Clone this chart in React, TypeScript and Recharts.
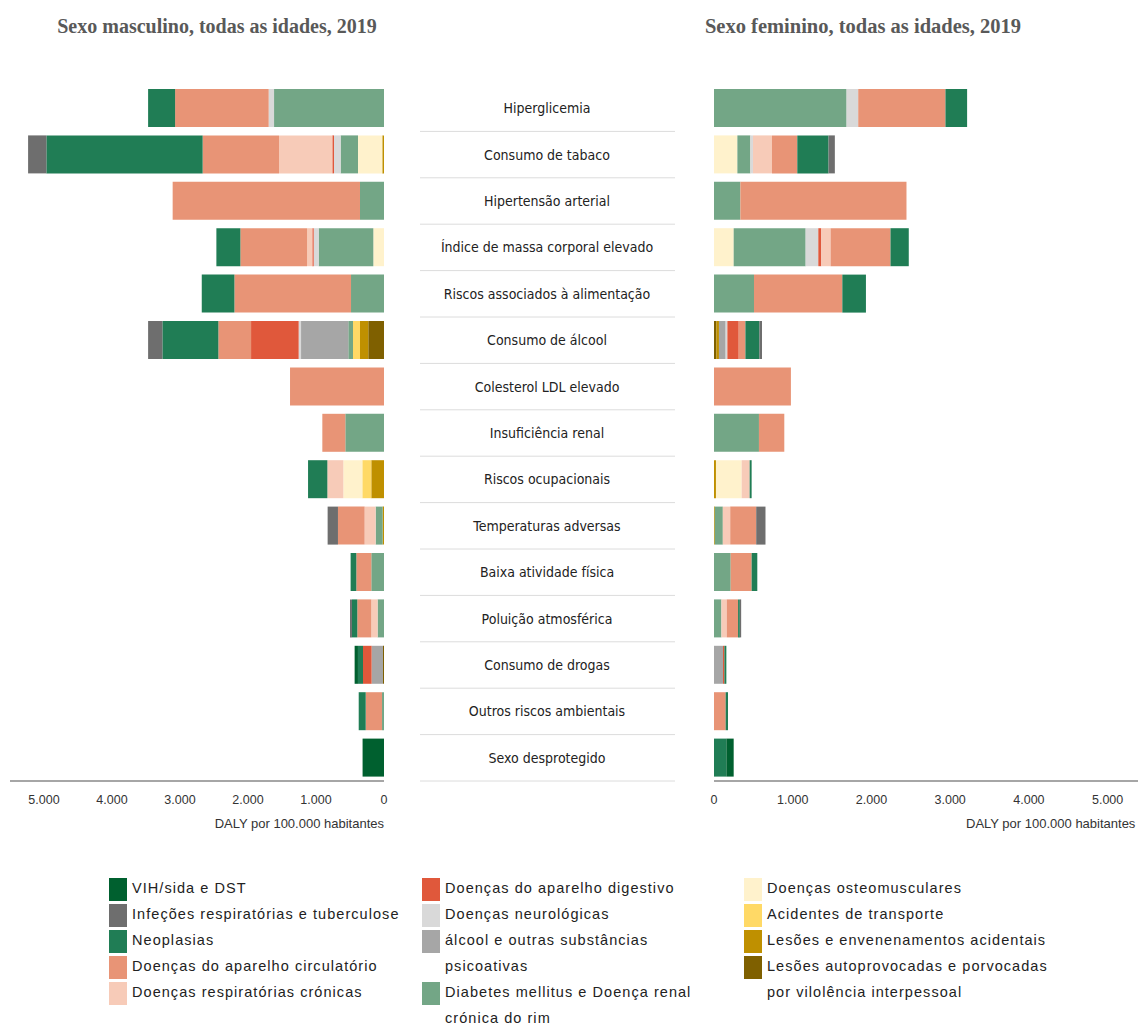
import { Bar, BarChart, XAxis, YAxis } from 'recharts';

const categories = [
  'Hiperglicemia',
  'Consumo de tabaco',
  'Hipertensão arterial',
  'Índice de massa corporal elevado',
  'Riscos associados à alimentação',
  'Consumo de álcool',
  'Colesterol LDL elevado',
  'Insuficiência renal',
  'Riscos ocupacionais',
  'Temperaturas adversas',
  'Baixa atividade física',
  'Poluição atmosférica',
  'Consumo de drogas',
  'Outros riscos ambientais',
  'Sexo desprotegido',
];

// stacking order, from 0 outwards
const seriesKeys = [
  'autoprov', 'acidentais', 'transporte', 'osteo', 'diabetes', 'alcool', 'neuro',
  'digestivo', 'respCron', 'circ', 'neo', 'infec', 'vih',
];
const seriesLabels = [
  'Lesões autoprovocadas e porvocadas\npor vilolência interpessoal',
  'Lesões e envenenamentos acidentais',
  'Acidentes de transporte',
  'Doenças osteomusculares',
  'Diabetes mellitus e Doença renal\ncrónica do rim',
  'álcool e outras substâncias\npsicoativas',
  'Doenças neurológicas',
  'Doenças do aparelho digestivo',
  'Doenças respiratórias crónicas',
  'Doenças do aparelho circulatório',
  'Neoplasias',
  'Infeções respiratórias e tuberculose',
  'VIH/sida e DST',
];
const seriesColors = [
  '#7f6000', '#bf9000', '#ffd966', '#fff2cc', '#73a686', '#a6a6a6', '#d9d9d9',
  '#e0583b', '#f7cbb8', '#e89476', '#207d55', '#6e6e6e', '#00602f',
];

// Sexo masculino (DALY por 100.000)
const mAutoprov = [0, 0, 0, 0, 0, 231, 0, 0, 0, 0, 0, 0, 15, 0, 0];
const mAcidentais = [0, 25, 0, 0, 0, 122, 0, 0, 187, 20, 0, 0, 0, 0, 0];
const mTransporte = [0, 0, 0, 0, 0, 103, 0, 0, 132, 0, 0, 0, 0, 0, 0];
const mOsteo = [0, 357, 0, 157, 0, 0, 0, 0, 279, 0, 0, 0, 0, 0, 0];
const mDiabetes = [1617, 256, 353, 804, 485, 69, 0, 569, 0, 103, 187, 94, 0, 29, 0];
const mAlcool = [0, 0, 0, 0, 0, 695, 0, 0, 0, 0, 0, 0, 167, 0, 0];
const mNeuro = [79, 97, 0, 73, 0, 35, 0, 0, 0, 0, 0, 0, 0, 0, 0];
const mDigestivo = [0, 25, 0, 20, 0, 700, 0, 0, 0, 0, 0, 0, 127, 0, 0];
const mRespCron = [0, 784, 0, 78, 0, 0, 0, 0, 235, 162, 0, 93, 0, 0, 0];
const mCirc = [1376, 1123, 2755, 980, 1715, 481, 1382, 338, 0, 392, 220, 206, 0, 240, 0];
const mNeo = [397, 2298, 0, 353, 480, 823, 0, 0, 284, 0, 84, 78, 74, 103, 0];
const mInfec = [0, 269, 0, 0, 0, 210, 0, 0, 0, 152, 0, 29, 0, 0, 0];
const mVih = [0, 0, 0, 0, 0, 0, 0, 0, 0, 0, 0, 0, 49, 0, 315];

// Sexo feminino
const fAutoprov = [0, 0, 0, 0, 0, 30, 0, 0, 0, 0, 0, 0, 0, 0, 0];
const fAcidentais = [0, 0, 0, 0, 0, 33, 0, 0, 25, 10, 0, 0, 0, 0, 0];
const fTransporte = [0, 0, 0, 0, 0, 0, 0, 0, 0, 0, 0, 0, 0, 0, 0];
const fOsteo = [0, 297, 0, 250, 0, 0, 0, 0, 326, 0, 0, 0, 0, 0, 0];
const fDiabetes = [1684, 165, 335, 914, 508, 0, 0, 571, 0, 102, 212, 94, 0, 0, 0];
const fAlcool = [0, 0, 0, 0, 0, 85, 0, 0, 0, 0, 0, 0, 114, 0, 0];
const fNeuro = [148, 33, 0, 161, 0, 22, 0, 0, 0, 0, 0, 0, 0, 0, 0];
const fDigestivo = [0, 0, 0, 38, 0, 144, 0, 0, 0, 0, 0, 0, 18, 0, 0];
const fRespCron = [0, 241, 0, 118, 0, 0, 0, 0, 102, 94, 0, 68, 0, 0, 0];
const fCirc = [1108, 322, 2110, 761, 1122, 85, 977, 322, 0, 330, 266, 144, 0, 148, 0];
const fNeo = [275, 397, 0, 232, 300, 178, 0, 0, 25, 0, 72, 22, 25, 30, 157];
const fInfec = [0, 80, 0, 0, 0, 33, 0, 0, 0, 118, 0, 17, 0, 0, 0];
const fVih = [0, 0, 0, 0, 0, 0, 0, 0, 0, 0, 0, 0, 0, 0, 93];

const xTicks = [0, 1000, 2000, 3000, 4000, 5000];

const buildRows = (vals: number[][]) =>
  categories.map((name, i) => {
    const row: Record<string, string | number> = { name };
    seriesKeys.forEach((k, j) => {
      row[k] = vals[j][i];
    });
    return row;
  });

const maleRows = buildRows([
  mAutoprov, mAcidentais, mTransporte, mOsteo, mDiabetes, mAlcool, mNeuro,
  mDigestivo, mRespCron, mCirc, mNeo, mInfec, mVih,
]);
const femaleRows = buildRows([
  fAutoprov, fAcidentais, fTransporte, fOsteo, fDiabetes, fAlcool, fNeuro,
  fDigestivo, fRespCron, fCirc, fNeo, fInfec, fVih,
]);

const fmt = (v: number) => String(v).replace(/\B(?=(\d{3})+(?!\d))/g, '.');

const CHART_H = 820;
const MARGIN_TOP = 85;
const PLOT_H = 696;
const rowHalf = PLOT_H / categories.length / 2;
const sansFont = "'Liberation Sans', Arial, sans-serif";
const narrowFont = "'Liberation Sans Narrow', 'DejaVu Sans Condensed', 'Roboto Condensed', sans-serif";
const serifFont = "'Liberation Serif', 'Times New Roman', serif";

const CategoryTick = (props: any) => {
  const { y, payload } = props;
  return (
    <g>
      <text
        x={147}
        y={y}
        textAnchor="middle"
        dominantBaseline="central"
        fontSize={14}
        fill="#222"
        fontFamily={narrowFont}
      >
        {payload.value}
      </text>
      <line x1={20} x2={275} y1={y + rowHalf} y2={y + rowHalf} stroke="#dcdcdc" strokeWidth={1} />
    </g>
  );
};

const axisTick = { fontSize: 12.5, fill: '#333', fontFamily: sansFont };

const renderBars = () =>
  seriesKeys.map((k, j) => (
    <Bar key={k} dataKey={k} stackId="a" fill={seriesColors[j]} isAnimationActive={false} />
  ));

const legendCols = [
  ['vih', 'infec', 'neo', 'circ', 'respCron'],
  ['digestivo', 'neuro', 'alcool', 'diabetes'],
  ['osteo', 'transporte', 'acidentais', 'autoprov'],
];
const legendX = [109, 422, 744];

const titleStyle = {
  position: 'absolute' as const,
  top: 15,
  textAlign: 'center' as const,
  fontFamily: serifFont,
  fontWeight: 700,
  fontSize: 20,
  color: '#595959',
  whiteSpace: 'nowrap' as const,
};

const axisLabelStyle = {
  position: 'absolute' as const,
  top: 816,
  fontSize: 13,
  color: '#333',
  fontFamily: sansFont,
  whiteSpace: 'nowrap' as const,
};

export default function App() {
  return (
    <div
      style={{
        position: 'absolute',
        left: 0,
        top: 0,
        width: 1138,
        height: 1026,
        overflow: 'hidden',
        background: '#fff',
      }}
    >
      <div style={{ ...titleStyle, left: 0, width: 434 }}>Sexo masculino, todas as idades, 2019</div>
      <div style={{ ...titleStyle, left: 600, width: 526, fontSize: 20.5 }}>
        Sexo feminino, todas as idades, 2019
      </div>

      <div style={{ position: 'absolute', left: 0, top: 0 }}>
        <BarChart
          width={400}
          height={CHART_H}
          data={maleRows}
          layout="vertical"
          barSize={38}
          margin={{ top: MARGIN_TOP, right: 16, bottom: 9, left: 10 }}
        >
          <XAxis
            type="number"
            domain={[0, 5500]}
            ticks={xTicks}
            interval={0}
            reversed
            height={30}
            tickFormatter={fmt}
            axisLine={{ stroke: '#a6a6a6', strokeWidth: 2 }}
            tickLine={false}
            tickMargin={8}
            tick={axisTick}
          />
          <YAxis type="category" dataKey="name" hide />
          {renderBars()}
        </BarChart>
      </div>

      <div style={{ position: 'absolute', left: 400, top: 0 }}>
        <BarChart
          width={760}
          height={CHART_H}
          data={femaleRows}
          layout="vertical"
          barSize={38}
          margin={{ top: MARGIN_TOP, right: 13, bottom: 9, left: 14 }}
        >
          <XAxis
            type="number"
            domain={[0, 5500]}
            ticks={xTicks}
            interval={0}
            height={30}
            tickFormatter={fmt}
            axisLine={{ stroke: '#a6a6a6', strokeWidth: 2 }}
            tickLine={false}
            tickMargin={8}
            tick={axisTick}
          />
          <YAxis
            type="category"
            dataKey="name"
            width={300}
            axisLine={false}
            tickLine={false}
            interval={0}
            tick={CategoryTick}
          />
          {renderBars()}
        </BarChart>
      </div>

      <div style={{ ...axisLabelStyle, left: 150, width: 234, textAlign: 'right' }}>
        DALY por 100.000 habitantes
      </div>
      <div style={{ ...axisLabelStyle, left: 966 }}>DALY por 100.000 habitantes</div>

      {legendCols.map((col, ci) => (
        <div key={ci} style={{ position: 'absolute', left: legendX[ci], top: 875 }}>
          {col.map((k) => {
            const j = seriesKeys.indexOf(k);
            return (
              <div key={k} style={{ display: 'flex', alignItems: 'flex-start' }}>
                <div
                  style={{
                    width: 18, height: 23, marginTop: 3, marginRight: 5,
                    background: seriesColors[j], flexShrink: 0,
                  }}
                />
                <div
                  style={{
                    fontFamily: sansFont, fontSize: 14.5, letterSpacing: 1.05,
                    lineHeight: '26px', color: '#222', whiteSpace: 'pre',
                  }}
                >
                  {seriesLabels[j]}
                </div>
              </div>
            );
          })}
        </div>
      ))}
    </div>
  );
}
